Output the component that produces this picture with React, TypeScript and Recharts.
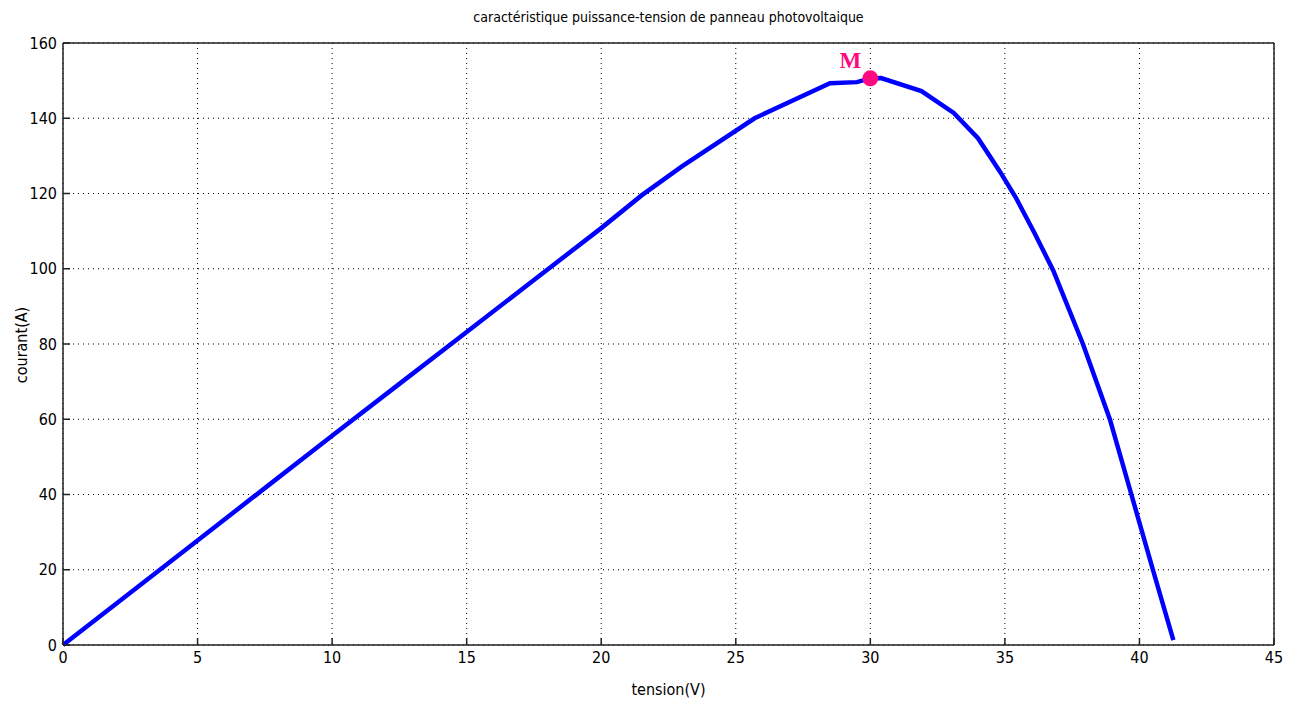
import React from "react";
import {
  LineChart,
  Line,
  XAxis,
  YAxis,
  CartesianGrid,
  ReferenceDot,
} from "recharts";

// Photovoltaic panel power–voltage characteristic
const voltage = [
  0, 2.5, 5, 7.5, 10, 12.5, 15, 17.5, 20, 21.5, 23, 25.7, 28.5, 29.5, 30,
  30.4, 31.9, 33.1, 34, 34.8, 35.4, 36.1, 36.8, 37.9, 38.9, 39.7, 40.5, 41.26,
];
const power = [
  0, 13.9, 27.8, 41.7, 55.6, 69.4, 83.2, 97, 110.8, 119.5, 127.2, 140, 149.3,
  149.6, 150.6, 150.7, 147.2, 141.4, 134.7, 126, 119, 109.5, 99.5, 80, 60, 40,
  20, 1.3,
];
const xTicks = [0, 5, 10, 15, 20, 25, 30, 35, 40, 45];
const yTicks = [0, 20, 40, 60, 80, 100, 120, 140, 160];

// Maximum power point
const mppVoltage = 30;
const mppPower = 150.6;
const mppLabel = "M";

const data = voltage.map((v, i) => ({ v, p: power[i] }));

const FONT =
  "'Liberation Sans Narrow', 'DejaVu Sans Condensed', 'Liberation Sans', Arial, sans-serif";
const W = 1298;
const H = 705;
const tickStyle = {
  fontFamily: FONT,
  fontSize: 16,
  fill: "#000",
  fontStretch: "condensed",
} as any;

const MLabel = (props: any) => {
  const { viewBox } = props;
  const cx = viewBox.x + viewBox.width / 2;
  const cy = viewBox.y + viewBox.height / 2;
  return (
    <text
      x={cx - 20}
      y={cy - 10}
      fill="#ff0a7e"
      fontFamily="'Liberation Serif', 'DejaVu Serif', serif"
      fontWeight="bold"
      fontSize={23}
      textAnchor="middle"
    >
      {mppLabel}
    </text>
  );
};

const textBox: React.CSSProperties = {
  position: "absolute",
  left: 0,
  width: W - 24,
  paddingLeft: 63,
  boxSizing: "border-box",
  textAlign: "center",
  fontFamily: FONT,
  fontStretch: "condensed",
  color: "#000",
};

export default function App() {
  return (
    <div
      style={{
        position: "absolute",
        left: 0,
        top: 0,
        width: W,
        height: H,
        background: "#fff",
      }}
    >
      <LineChart
        width={W}
        height={H}
        data={data}
        margin={{ top: 42, right: 23, bottom: 30, left: 0 }}
      >
        <CartesianGrid
          stroke="#000"
          strokeDasharray="1 4"
          strokeWidth={1}
          xAxisId="b"
          yAxisId="l"
        />
        <XAxis
          xAxisId="b"
          dataKey="v"
          type="number"
          domain={[0, 45]}
          ticks={xTicks}
          interval={0}
          height={30}
          axisLine={{ stroke: "#222", strokeWidth: 1.5 }}
          tickLine={{ stroke: "#222", strokeWidth: 1.5 }}
          tickSize={-7}
          tickMargin={14}
          tick={tickStyle}
        />
        <XAxis
          xAxisId="t"
          orientation="top"
          dataKey="v"
          type="number"
          domain={[0, 45]}
          ticks={xTicks}
          interval={0}
          height={1}
          axisLine={{ stroke: "#222", strokeWidth: 1.5 }}
          tickLine={{ stroke: "#222", strokeWidth: 1.5 }}
          tickSize={-7}
          tick={false}
        />
        <YAxis
          yAxisId="l"
          type="number"
          domain={[0, 160]}
          ticks={yTicks}
          interval={0}
          width={63}
          axisLine={{ stroke: "#222", strokeWidth: 1.5 }}
          tickLine={{ stroke: "#222", strokeWidth: 1.5 }}
          tickSize={-7}
          tickMargin={13}
          tick={tickStyle}
        />
        <YAxis
          yAxisId="r"
          orientation="right"
          type="number"
          domain={[0, 160]}
          ticks={yTicks}
          interval={0}
          width={1}
          axisLine={{ stroke: "#222", strokeWidth: 1.5 }}
          tickLine={{ stroke: "#222", strokeWidth: 1.5 }}
          tickSize={-7}
          tick={false}
        />
        <Line
          xAxisId="b"
          yAxisId="l"
          dataKey="p"
          type="linear"
          stroke="#0000ff"
          strokeWidth={4.5}
          dot={false}
          activeDot={false}
          isAnimationActive={false}
        />
        <ReferenceDot
          xAxisId="b"
          yAxisId="l"
          x={mppVoltage}
          y={mppPower}
          r={8}
          fill="#ff0a7e"
          stroke="none"
          label={<MLabel />}
        />
      </LineChart>
      <div style={{ ...textBox, top: 9, fontSize: 14 }}>
        caractéristique puissance-tension de panneau photovoltaique
      </div>
      <div style={{ ...textBox, top: 680, fontSize: 16 }}>tension(V)</div>
      <div
        style={{
          position: "absolute",
          left: 21,
          top: 345,
          transform: "translate(-50%, -50%) rotate(-90deg)",
          fontFamily: FONT,
          fontStretch: "condensed",
          fontSize: 16,
          color: "#000",
          whiteSpace: "nowrap",
        }}
      >
        courant(A)
      </div>
    </div>
  );
}
